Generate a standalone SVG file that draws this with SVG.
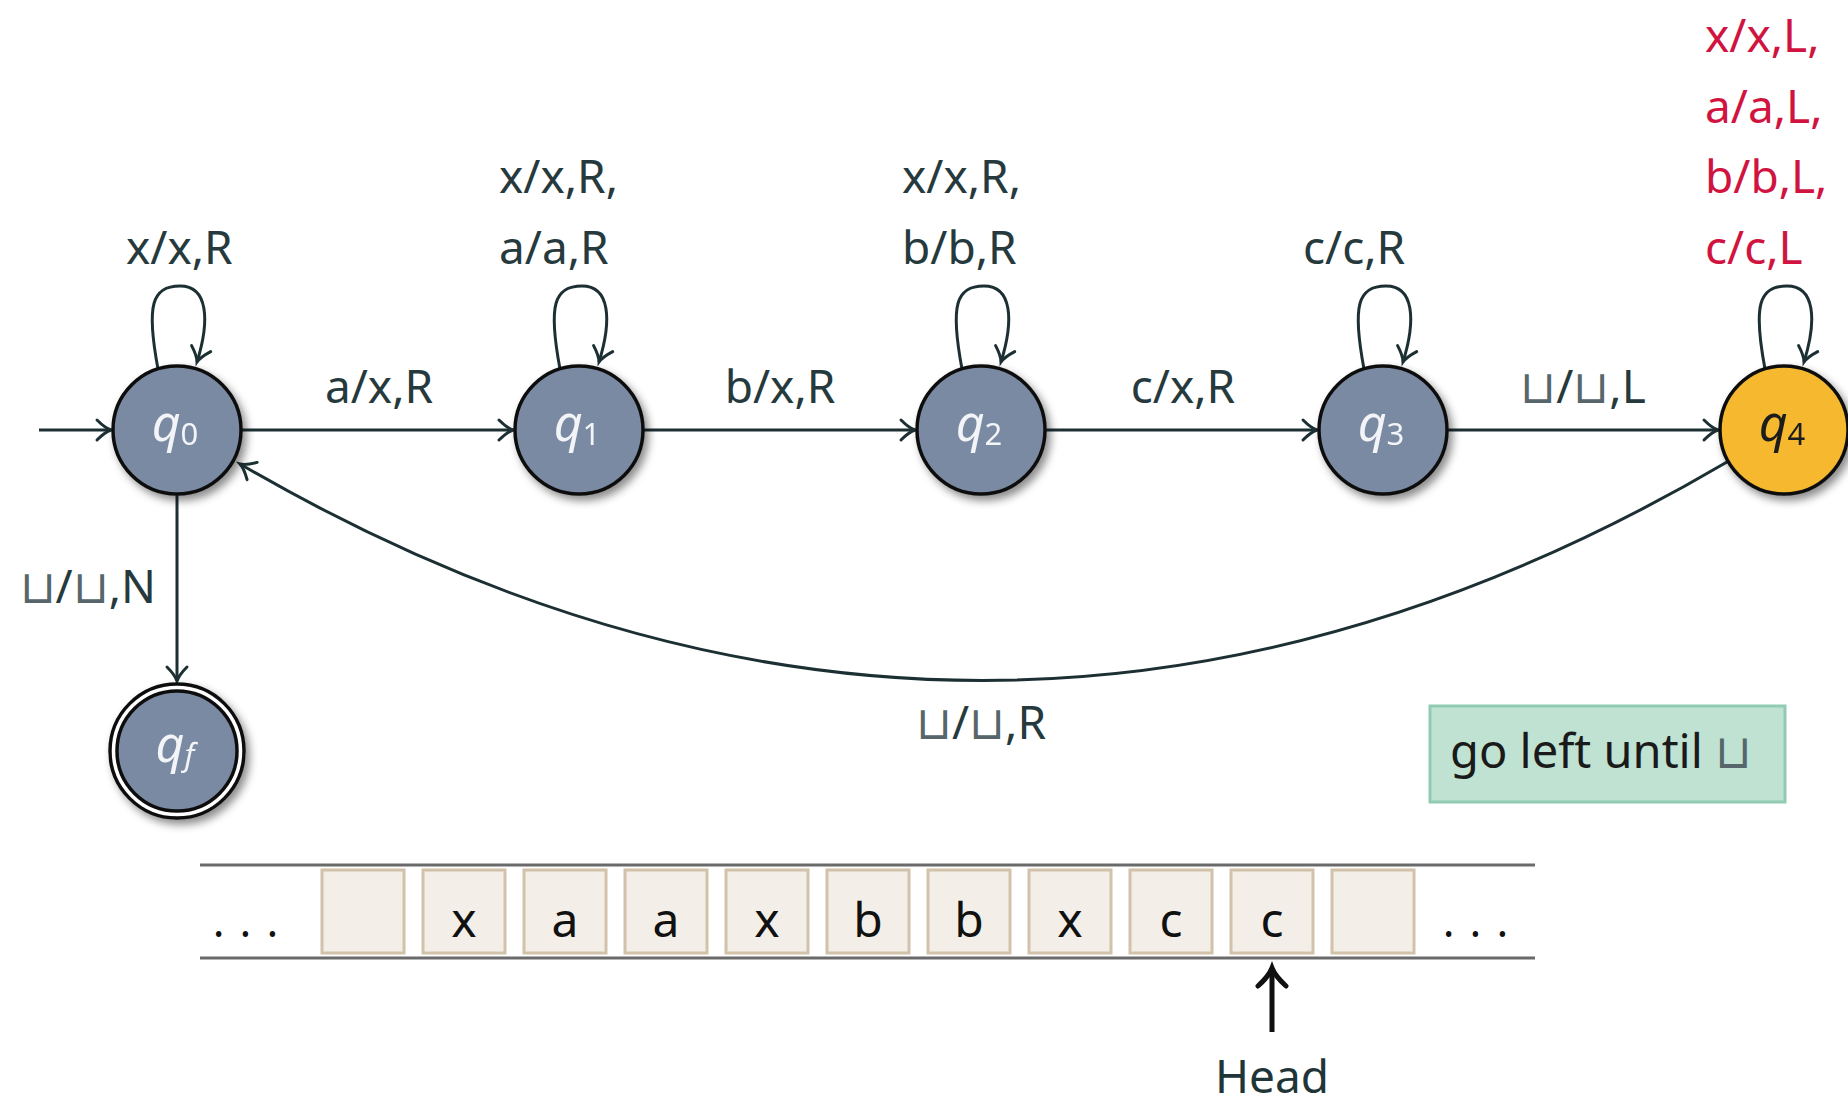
<svg xmlns="http://www.w3.org/2000/svg" width="1848" height="1103" viewBox="0 0 1848 1103">
<style>
  .edge { fill: none; stroke: #1c3034; stroke-width: 3; }
  .lbl { font-family: "Noto Sans", "Liberation Sans", sans-serif; font-size: 46px; fill: #263a3e; }
  .red { fill: #d0143f; }
  .cup { font-family: "DejaVu Sans", sans-serif; font-weight: 200; fill: #56666a; }
  .node { fill: #7a8aa3; stroke: #111; stroke-width: 3.5; }
  .acc { fill: #f5b82e; stroke: #111; stroke-width: 3.5; }
  .qt { font-family: "Noto Sans", "Liberation Sans", sans-serif; font-size: 50px; fill: #f2f4f7; }
  .qd { fill: #1a1a1a; }
  .cell { fill: #f3efe8; stroke: #d2c2aa; stroke-width: 3; }
  .sym { font-family: "Noto Sans", "Liberation Sans", sans-serif; font-size: 48px; fill: #111; text-anchor: middle; }
  .tape { stroke: #6a6a6a; stroke-width: 3; }
</style>
<defs>
  <marker id="arr" markerUnits="userSpaceOnUse" markerWidth="32" markerHeight="32" viewBox="-20 -16 32 32" refX="0" refY="0" orient="auto">
    <path d="M -14 -10 Q -6 -2 0 0 Q -6 2 -14 10" fill="none" stroke="#1c3034" stroke-width="3" stroke-linecap="round"/>
  </marker>
  <marker id="arrk" markerUnits="userSpaceOnUse" markerWidth="40" markerHeight="40" viewBox="-24 -20 40 40" refX="0" refY="0" orient="auto">
    <path d="M -18 -14 Q -8 -3 0 0 Q -8 3 -18 14" fill="none" stroke="#111" stroke-width="5" stroke-linecap="round"/>
  </marker>
  <filter id="sh" x="-30%" y="-30%" width="170%" height="170%">
    <feDropShadow dx="4" dy="5" stdDeviation="4" flood-color="#000" flood-opacity="0.45"/>
  </filter>
</defs>
<rect width="1848" height="1103" fill="#ffffff"/>

<g id="connectors">
  <line class="edge" x1="39" y1="430" x2="111" y2="430" marker-end="url(#arr)"/>
  <line class="edge" x1="241" y1="430" x2="513" y2="430" marker-end="url(#arr)"/>
  <line class="edge" x1="643" y1="430" x2="915" y2="430" marker-end="url(#arr)"/>
  <line class="edge" x1="1045" y1="430" x2="1317" y2="430" marker-end="url(#arr)"/>
  <line class="edge" x1="1447" y1="430" x2="1718" y2="430" marker-end="url(#arr)"/>
  <line class="edge" x1="177" y1="493" x2="177" y2="681" marker-end="url(#arr)"/>
  <path class="edge" d="M 1727 462 Q 985 898 240 464" marker-end="url(#arr)"/>
  <path class="edge" d="M 158 369 C 146 305 152 286 180 286 C 208 286 210 320 197 362" marker-end="url(#arr)"/>
  <path class="edge" d="M 560 369 C 548 305 554 286 582 286 C 610 286 612 320 599 362" marker-end="url(#arr)"/>
  <path class="edge" d="M 962 369 C 950 305 956 286 984 286 C 1012 286 1014 320 1001 362" marker-end="url(#arr)"/>
  <path class="edge" d="M 1364 369 C 1352 305 1358 286 1386 286 C 1414 286 1416 320 1403 362" marker-end="url(#arr)"/>
  <path class="edge" d="M 1765 369 C 1753 305 1759 286 1787 286 C 1815 286 1817 320 1804 362" marker-end="url(#arr)"/>

  <text class="lbl" x="126" y="264">x/x,R</text>
  <text class="lbl" x="499" y="193">x/x,R,</text>
  <text class="lbl" x="499" y="264">a/a,R</text>
  <text class="lbl" x="902" y="193">x/x,R,</text>
  <text class="lbl" x="902" y="264">b/b,R</text>
  <text class="lbl" x="1303" y="264">c/c,R</text>
  <text class="lbl red" x="1705" y="52">x/x,L,</text>
  <text class="lbl red" x="1705" y="123">a/a,L,</text>
  <text class="lbl red" x="1705" y="193">b/b,L,</text>
  <text class="lbl red" x="1705" y="264">c/c,L</text>

  <text class="lbl" x="379" y="403" text-anchor="middle">a/x,R</text>
  <text class="lbl" x="780" y="403" text-anchor="middle">b/x,R</text>
  <text class="lbl" x="1183" y="403" text-anchor="middle">c/x,R</text>
  <text class="lbl" x="1583" y="403" text-anchor="middle"><tspan class="cup">⊔</tspan>/<tspan class="cup">⊔</tspan>,L</text>
  <text class="lbl" x="156" y="603" text-anchor="end"><tspan class="cup">⊔</tspan>/<tspan class="cup">⊔</tspan>,N</text>
  <text class="lbl" x="981" y="739" text-anchor="middle"><tspan class="cup">⊔</tspan>/<tspan class="cup">⊔</tspan>,R</text>
</g>

<g id="node-q0" filter="url(#sh)">
  <circle class="node" cx="177" cy="430" r="64"/>
  <text class="qt" x="175" y="441" text-anchor="middle"><tspan font-style="italic">q</tspan><tspan font-size="31" dy="4">0</tspan></text>
</g>
<g id="node-q1" filter="url(#sh)">
  <circle class="node" cx="579" cy="430" r="64"/>
  <text class="qt" x="577" y="441" text-anchor="middle"><tspan font-style="italic">q</tspan><tspan font-size="31" dy="4">1</tspan></text>
</g>
<g id="node-q2" filter="url(#sh)">
  <circle class="node" cx="981" cy="430" r="64"/>
  <text class="qt" x="979" y="441" text-anchor="middle"><tspan font-style="italic">q</tspan><tspan font-size="31" dy="4">2</tspan></text>
</g>
<g id="node-q3" filter="url(#sh)">
  <circle class="node" cx="1383" cy="430" r="64"/>
  <text class="qt" x="1381" y="441" text-anchor="middle"><tspan font-style="italic">q</tspan><tspan font-size="31" dy="4">3</tspan></text>
</g>
<g id="node-q4" filter="url(#sh)">
  <circle class="acc" cx="1784" cy="430" r="64"/>
  <text class="qt qd" x="1782" y="441" text-anchor="middle"><tspan font-style="italic">q</tspan><tspan font-size="31" dy="4">4</tspan></text>
</g>
<g id="node-qf" filter="url(#sh)">
  <circle cx="177" cy="751" r="67" fill="#fff" stroke="#111" stroke-width="3.5"/>
  <circle class="node" cx="177" cy="751" r="60"/>
  <text class="qt" x="175" y="762" text-anchor="middle"><tspan font-style="italic">q</tspan><tspan font-size="31" dy="4" font-style="italic">f</tspan></text>
</g>

<g id="note">
  <rect x="1430" y="706" width="355" height="96" fill="#bfe2d3" stroke="#92cbb3" stroke-width="3"/>
  <text class="lbl" x="1450" y="768" style="fill:#1a1a1a;font-size:47px">go left until <tspan class="cup">⊔</tspan></text>
</g>

<g id="tape">
  <line class="tape" x1="200" y1="865" x2="1535" y2="865"/>
  <line class="tape" x1="200" y1="958" x2="1535" y2="958"/>
  <rect class="cell" x="322" y="870" width="82" height="83"/>
  <rect class="cell" x="423" y="870" width="82" height="83"/>
  <rect class="cell" x="524" y="870" width="82" height="83"/>
  <rect class="cell" x="625" y="870" width="82" height="83"/>
  <rect class="cell" x="726" y="870" width="82" height="83"/>
  <rect class="cell" x="827" y="870" width="82" height="83"/>
  <rect class="cell" x="928" y="870" width="82" height="83"/>
  <rect class="cell" x="1029" y="870" width="82" height="83"/>
  <rect class="cell" x="1130" y="870" width="82" height="83"/>
  <rect class="cell" x="1231" y="870" width="82" height="83"/>
  <rect class="cell" x="1332" y="870" width="82" height="83"/>
  <text class="sym" x="464" y="937">x</text>
  <text class="sym" x="565" y="937">a</text>
  <text class="sym" x="666" y="937">a</text>
  <text class="sym" x="767" y="937">x</text>
  <text class="sym" x="868" y="937">b</text>
  <text class="sym" x="969" y="937">b</text>
  <text class="sym" x="1070" y="937">x</text>
  <text class="sym" x="1171" y="937">c</text>
  <text class="sym" x="1272" y="937">c</text>
  <text class="sym" x="253" y="937" letter-spacing="15" style="font-size:44px">...</text>
  <text class="sym" x="1483" y="937" letter-spacing="15" style="font-size:44px">...</text>
  <line x1="1272" y1="1032" x2="1272" y2="968" stroke="#111" stroke-width="5" marker-end="url(#arrk)"/>
  <text class="lbl" x="1272" y="1093" text-anchor="middle" style="fill:#1f3538">Head</text>
</g>
</svg>
